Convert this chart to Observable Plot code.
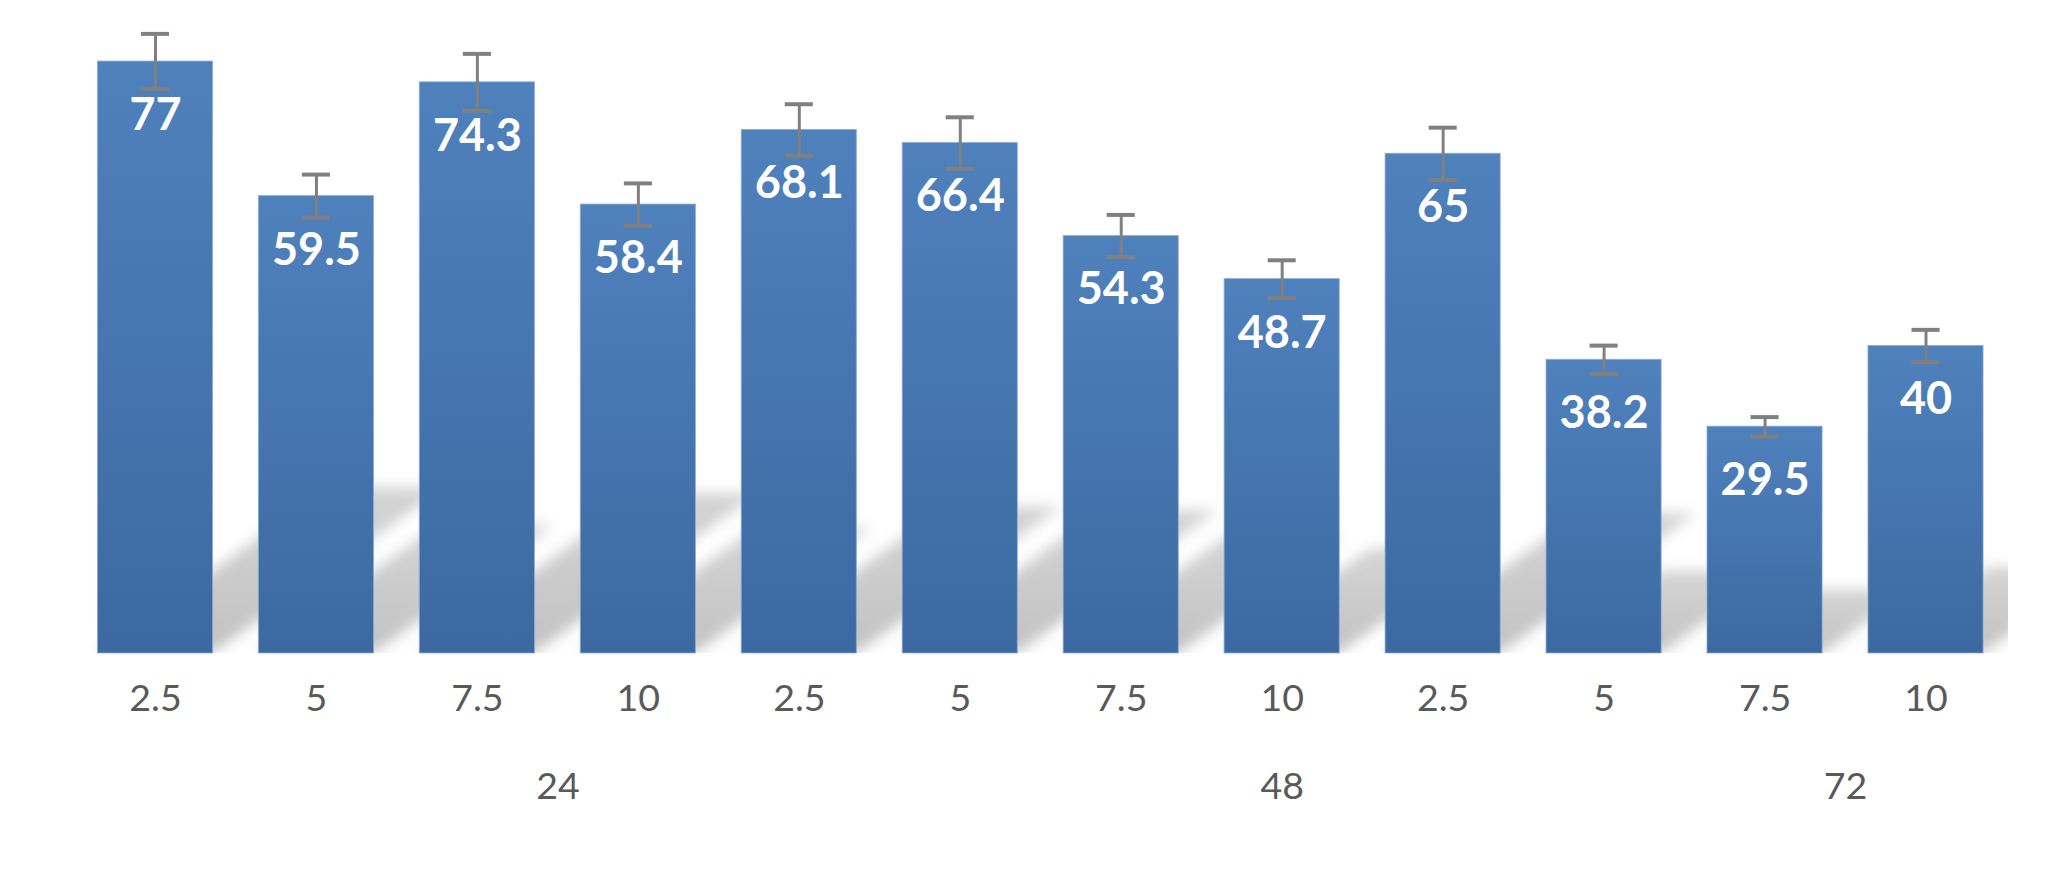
<!DOCTYPE html>
<html>
<head>
<meta charset="utf-8">
<script src="https://cdn.jsdelivr.net/npm/d3@7"></script>
<script src="https://cdn.jsdelivr.net/npm/@observablehq/plot@0.6"></script>
<style>
  html, body { margin: 0; padding: 0; background: #ffffff; overflow: hidden; }
</style>
</head>
<body>
<div id="chart"></div>
<script>
// ---- data ----
const groups = ["24", "24", "24", "24", "48", "48", "48", "48", "72", "72", "72", "72"];
const concentrations = ["2.5", "5", "7.5", "10", "2.5", "5", "7.5", "10", "2.5", "5", "7.5", "10"];
const values = [77, 59.5, 74.3, 58.4, 68.1, 66.4, 54.3, 48.7, 65, 38.2, 29.5, 40];
const errors = [3.6, 2.8, 3.7, 2.75, 3.35, 3.35, 2.75, 2.45, 3.4, 1.85, 1.25, 2.1];
const groupLabels = ["24", "48", "72"];
const groupLabelAnchors = ["24|7.5", "48|10", "72|7.5"];
const groupLabelShift = [0.5, 0, 0.5]; // fraction of a band step

const data = values.map((v, i) => ({
  key: groups[i] + "|" + concentrations[i],
  group: groups[i],
  conc: concentrations[i],
  value: v,
  error: errors[i]
}));

// ---- layout ----
const W = 2049, H = 882;
const mL = 72.5, mR = 41, mT = 38, mB = 229;
const padInner = 0.285, padOuter = 0.155;
const step = (W - mL - mR) / (data.length - padInner + 2 * padOuter);

const skew = -Math.atan(1.4) * 180 / Math.PI;
const shadowScale = 0.28;

const defsMark = (index, scales, values, dimensions) => {
  const d = d3.create("svg:defs");
  const g = d.append("linearGradient").attr("id", "barGrad")
    .attr("x1", 0).attr("y1", 0).attr("x2", 0).attr("y2", 1);
  g.append("stop").attr("offset", "0%").attr("stop-color", "#4f81bd");
  g.append("stop").attr("offset", "100%").attr("stop-color", "#3c69a1");
  const sg = d.append("linearGradient").attr("id", "shadowGrad")
    .attr("x1", 0).attr("y1", 0).attr("x2", 0).attr("y2", 1);
  sg.append("stop").attr("offset", "0%").attr("stop-color", "#d4d4d4");
  sg.append("stop").attr("offset", "100%").attr("stop-color", "#c2c2c2");
  const f = d.append("filter").attr("id", "shadowBlur")
    .attr("x", "-10%").attr("y", "-30%").attr("width", "120%").attr("height", "160%");
  f.append("feGaussianBlur").attr("stdDeviation", 7);
  const base = scales.y(0);
  d.append("clipPath").attr("id", "shadowClip").append("rect")
    .attr("x", dimensions.marginLeft)
    .attr("y", 0)
    .attr("width", dimensions.width - dimensions.marginLeft - dimensions.marginRight)
    .attr("height", base);
  return d.node();
};

const chart = Plot.plot({
  width: W,
  height: H,
  marginLeft: mL,
  marginRight: mR,
  marginTop: mT,
  marginBottom: mB,
  style: { background: "#ffffff", fontFamily: "Lato, 'Open Sans', sans-serif" },
  x: {
    type: "band",
    domain: data.map(d => d.key),
    paddingInner: padInner,
    paddingOuter: padOuter,
    round: false,
    axis: null
  },
  y: { domain: [0, 80], axis: null },
  marks: [
    defsMark,
    // perspective shadow
    Plot.rectY(data, {
      x: "key", y: "value", fill: "url(#shadowGrad)",
      render(index, scales, values, dimensions, context, next) {
        const g = next(index, scales, values, dimensions, context);
        const base = scales.y(0);
        const outer = d3.create("svg:g").attr("clip-path", "url(#shadowClip)");
        const mid = outer.append("g").attr("filter", "url(#shadowBlur)");
        const inner = mid.append("g").attr("transform",
          `translate(0,${base}) skewX(${skew}) scale(1,${shadowScale}) translate(0,${-base})`);
        inner.node().appendChild(g);
        return outer.node();
      }
    }),
    // bars
    Plot.rectY(data, {
      x: "key", y: "value", fill: "url(#barGrad)",
      stroke: "#8aaad4", strokeWidth: 1, strokeOpacity: 0.8
    }),
    // error bars
    Plot.ruleX(data, {
      x: "key", y1: d => d.value - d.error, y2: d => d.value + d.error,
      stroke: "#808080", strokeWidth: 3
    }),
    Plot.tickY(data, {
      x: "key", y: d => d.value + d.error,
      stroke: "#808080", strokeWidth: 4, insetLeft: 43.5, insetRight: 43.5
    }),
    Plot.tickY(data, {
      x: "key", y: d => d.value - d.error,
      stroke: "#808080", strokeWidth: 4, insetLeft: 43.5, insetRight: 43.5
    }),
    // value labels
    Plot.text(data, {
      x: "key", y: "value", text: d => String(d.value), dy: 54,
      fill: "#ffffff", fontSize: 45, fontWeight: "bold", fontFamily: "Lato"
    }),
    // concentration tick labels
    Plot.text(data, {
      x: "key", text: "conc", frameAnchor: "bottom", dy: 57,
      fill: "#595959", fontSize: 37.5, fontFamily: "Lato"
    }),
    // group labels
    ...groupLabels.map((t, i) => Plot.text([{ key: groupLabelAnchors[i], label: t }], {
      x: "key", text: "label", frameAnchor: "bottom", dy: 145, dx: groupLabelShift[i] * step,
      fill: "#595959", fontSize: 37.5, fontFamily: "Lato"
    }))
  ]
});

document.getElementById("chart").appendChild(chart);
</script>
</body>
</html>
